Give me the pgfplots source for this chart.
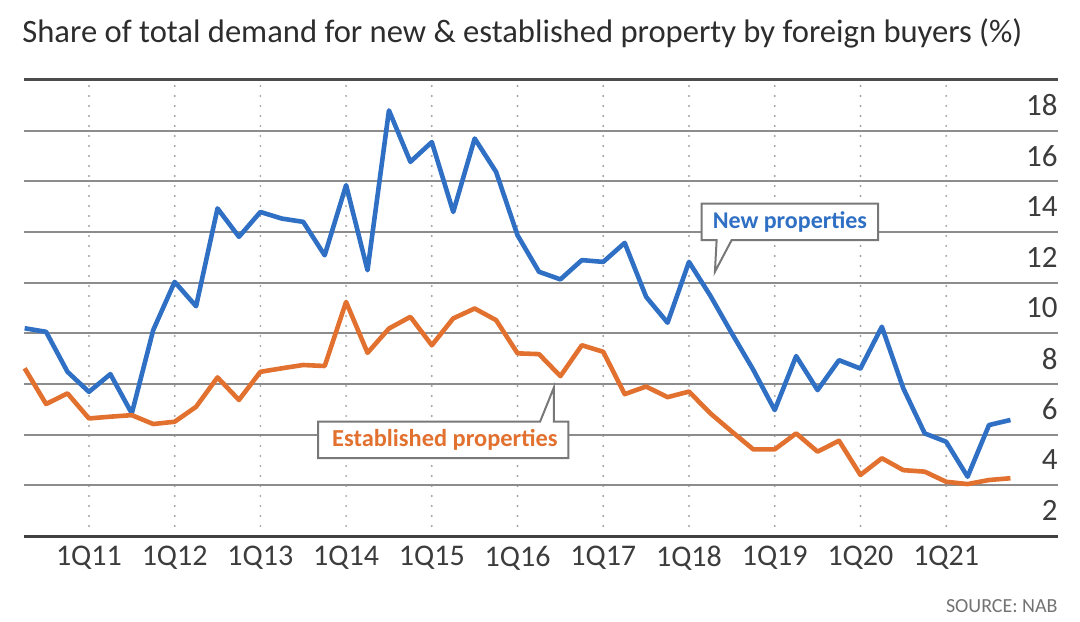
\documentclass[border=0pt]{standalone}
\usepackage{pgfplots}
\pgfplotsset{compat=1.18}
\usepackage{fontspec}
\setmainfont{Carlito}
\definecolor{newblue}{RGB}{47,111,196}
\definecolor{estorange}{RGB}{226,113,48}
\definecolor{gridgray}{RGB}{140,140,140}
\definecolor{dotgray}{RGB}{160,160,160}
\definecolor{labgray}{RGB}{60,60,60}
\definecolor{titlegray}{RGB}{45,45,45}
\definecolor{boxgray}{RGB}{120,120,120}

\pgfplotstableread{
q v
-3 9.2
-2 9.06
-1 7.48
0 6.69
1 7.39
2 5.84
3 9.13
4 11.03
5 10.07
6 13.93
7 12.81
8 13.79
9 13.53
10 13.4
11 12.08
12 14.85
13 11.49
14 17.8
15 15.77
16 16.55
17 13.79
18 16.69
19 15.37
20 12.87
21 11.43
22 11.13
23 11.89
24 11.82
25 12.57
26 10.44
27 9.42
28 11.82
29 10.48
30 9.0
31 7.56
32 5.97
33 8.1
34 6.76
35 7.94
36 7.61
37 9.26
38 6.83
39 5.05
40 4.72
41 3.34
42 5.38
43 5.58
}\newdata

\pgfplotstableread{
q v
-3 7.62
-2 6.21
-1 6.63
0 5.64
1 5.71
2 5.77
3 5.42
4 5.51
5 6.1
6 7.26
7 6.37
8 7.48
9 7.62
10 7.75
11 7.71
12 10.24
13 8.23
14 9.19
15 9.65
16 8.53
17 9.59
18 9.98
19 9.52
20 8.21
21 8.18
22 7.31
23 8.53
24 8.27
25 6.6
26 6.9
27 6.48
28 6.7
29 5.84
30 5.12
31 4.42
32 4.42
33 5.05
34 4.33
35 4.76
36 3.41
37 4.07
38 3.6
39 3.54
40 3.14
41 3.05
42 3.21
43 3.28
}\estdata

\begin{document}
\begin{tikzpicture}
\path[use as bounding box] (-12pt,-42.5pt) rectangle (528pt,268pt);
\begin{axis}[
  scale only axis,
  width=517pt, height=228pt,
  xmin=-3.03, xmax=45.22, ymin=1, ymax=19,
  axis line style={draw=none},
  tick style={draw=none},
  major tick length=0pt, minor tick length=0pt,
  xtick={0,4,...,40},
  xticklabels={1Q11,1Q12,1Q13,1Q14,1Q15,1Q16,1Q17,1Q18,1Q19,1Q20,1Q21},
  xmajorgrids,
  x grid style={dotgray, line width=1.1pt, line cap=round, dash pattern=on 0pt off 5pt},
  ytick={2,4,...,18},
  minor ytick={3,5,...,17},
  yminorgrids,
  ymajorgrids=false,
  minor y grid style={gridgray, line width=1pt},
  yticklabel pos=right,
  yticklabel style={anchor=east, inner sep=0pt, font=\fontsize{15.5}{16}\selectfont, text=labgray},
  xticklabel style={anchor=north, inner sep=0pt, yshift=-5pt, font=\fontsize{15}{16}\selectfont, text=labgray},
  /pgf/number format/assume math mode=true,
  clip=false,
]
\addplot[newblue, line width=2.3pt, line join=round] table[x=q, y=v] {\newdata};
\addplot[estorange, line width=2.3pt, line join=round] table[x=q, y=v] {\estdata};
\draw[color=black!70, line width=1.5pt] (rel axis cs:0,1) -- (rel axis cs:1,1);
\draw[color=black!75, line width=1.5pt] (rel axis cs:0,0) -- (rel axis cs:1,0);
% callouts
\draw[boxgray, fill=white, line width=1pt, line join=miter]
  (axis cs:28.59,14.12) -- (axis cs:36.83,14.12) -- (axis cs:36.83,12.68) -- (axis cs:29.99,12.68)
  -- (axis cs:29.21,11.43) -- (axis cs:29.29,12.68) -- (axis cs:28.59,12.68) -- cycle;
\node[text=newblue, font=\fontsize{12}{13}\selectfont\bfseries] at (axis cs:32.71,13.4) {New properties};
\draw[boxgray, fill=white, line width=1pt, line join=miter]
  (axis cs:10.7,5.51) -- (axis cs:21.05,5.51) -- (axis cs:21.7,6.87) -- (axis cs:21.7,5.51)
  -- (axis cs:22.37,5.51) -- (axis cs:22.37,4.07) -- (axis cs:10.7,4.07) -- cycle;
\node[text=estorange, font=\fontsize{12.2}{13}\selectfont\bfseries] at (axis cs:16.61,4.79) {Established properties};
\end{axis}
\node[anchor=west, inner sep=0pt, text=titlegray, font=\fontsize{16.3}{18}\selectfont] at (-1pt,251.5pt)
  {Share of total demand for new \& established property by foreign buyers (\%)};
\node[anchor=east, inner sep=0pt, text=black!55, font=\fontsize{10}{11}\selectfont] at (517pt,-35pt) {SOURCE: NAB};
\end{tikzpicture}
\end{document}
